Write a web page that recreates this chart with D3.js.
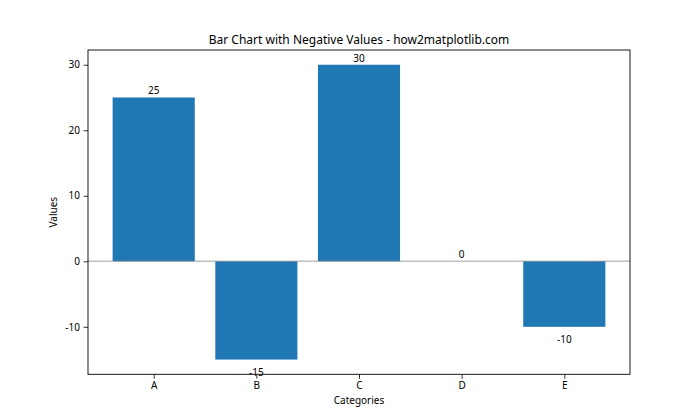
<!DOCTYPE html>
<html><head><meta charset="utf-8">
<script src="https://cdn.jsdelivr.net/npm/d3@7"></script>
<style>body{margin:0;background:#fff}svg{display:block}text{font-family:"Noto Sans","DejaVu Sans",sans-serif;fill:#000}</style>
</head><body>
<svg id="c" width="700" height="420"></svg>
<script>
const categories = ["A","B","C","D","E"];
const values = [25,-15,30,0,-10];
const yTicks = [-10,0,10,20,30];
const title = "Bar Chart with Negative Values - how2matplotlib.com";
const xLabel = "Categories";
const yLabel = "Values";

const svg = d3.select("#c");
const L = 88, R = 630, T = 50, B = 374.3;
const x = d3.scaleLinear().domain([-0.64, 4.64]).range([L, R]);
const y = d3.scaleLinear().domain([-17.25, 32.25]).range([B, T]);
const bw = 0.8;

svg.append("rect").attr("width",700).attr("height",420).attr("fill","#fff");

svg.selectAll("rect.bar").data(values).enter().append("rect").attr("class","bar")
  .attr("x",(d,i)=>x(i-bw/2)).attr("width",(d,i)=>x(i+bw/2)-x(i-bw/2))
  .attr("y",d=>y(Math.max(0,d))).attr("height",d=>Math.abs(y(d)-y(0)))
  .attr("fill","#1f77b4");

svg.append("line").attr("x1",L).attr("x2",R).attr("y1",y(0)).attr("y2",y(0))
  .attr("stroke","#808080").attr("stroke-opacity",0.5).attr("stroke-width",1.6);

svg.selectAll("text.lbl").data(values).enter().append("text").attr("class","lbl")
  .attr("x",(d,i)=>x(i)).attr("y",d=>d>=0? y(d)-3 : y(d)+16)
  .attr("text-anchor","middle").attr("font-size","10px").text(d=>String(d));

const xa = svg.append("g").attr("transform",`translate(0,${B})`)
  .call(d3.axisBottom(x).tickValues(d3.range(categories.length)).tickFormat(i=>categories[i]).tickSize(4.5).tickPadding(3.5));
const ya = svg.append("g").attr("transform",`translate(${L},0)`)
  .call(d3.axisLeft(y).tickValues(yTicks).tickFormat(d=>String(d)).tickSize(4.5).tickPadding(3.5));
[xa,ya].forEach(a=>{a.select(".domain").remove();a.selectAll("text").attr("font-size","10px").attr("font-family","Noto Sans, DejaVu Sans, sans-serif").attr("fill","#000");a.selectAll("line").attr("stroke","#000").attr("stroke-width",0.8);});

svg.append("rect").attr("x",L).attr("y",T).attr("width",R-L).attr("height",B-T)
  .attr("fill","none").attr("stroke","#000").attr("stroke-width",0.9);

svg.append("text").attr("x",(L+R)/2).attr("y",T-6).attr("text-anchor","middle").attr("font-size","12px").text(title);
svg.append("text").attr("x",(L+R)/2).attr("y",404).attr("text-anchor","middle").attr("font-size","10px").text(xLabel);
svg.append("text").attr("transform",`translate(57,${(T+B)/2}) rotate(-90)`).attr("text-anchor","middle").attr("font-size","10px").text(yLabel);
</script>
</body></html>
